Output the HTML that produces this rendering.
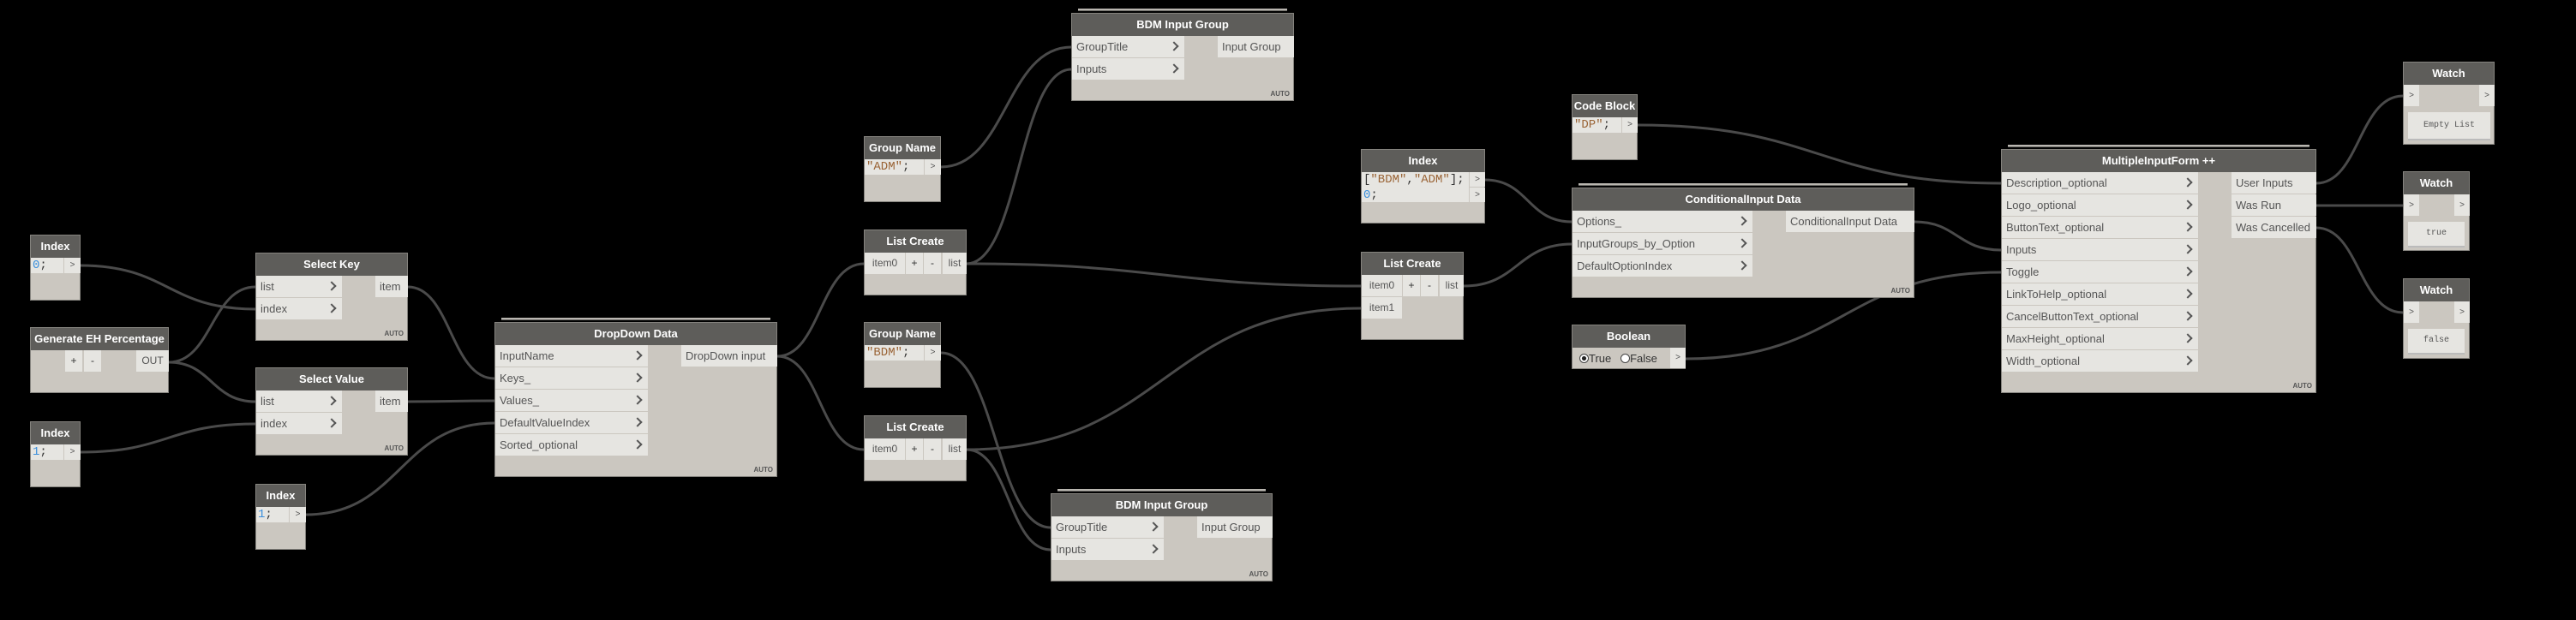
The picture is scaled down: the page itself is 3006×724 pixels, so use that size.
<!DOCTYPE html>
<html><head><meta charset="utf-8">
<style>
*{margin:0;padding:0}
body{width:3006px;height:724px;background:#000;position:relative;overflow:hidden;font-family:"Liberation Sans",sans-serif}
svg.w{position:absolute;left:0;top:0}
.n{position:absolute;background:#cbc7c0;border:1px solid #85837e;box-sizing:border-box}
.h{position:absolute;left:0;right:0;top:0;height:26px;background:#5e5d5a;color:#fff;font-weight:bold;font-size:13px;text-align:center;line-height:26px;white-space:nowrap}
.r{position:absolute;background:#e6e5e1;height:25px;line-height:25px;font-size:13px;color:#555;padding-left:5px;box-sizing:border-box;white-space:nowrap}
.r i{position:absolute;right:8px;top:8px;width:6px;height:6px;border-right:2.5px solid #555;border-bottom:2.5px solid #555;transform:rotate(-45deg)}
.c{position:absolute;background:#e6e5e1;height:18px;line-height:18px;font-family:"Liberation Mono",monospace;font-size:14px;color:#333;padding-left:2px;box-sizing:border-box;white-space:nowrap}
.p{position:absolute;background:#e6e5e1;height:18px;line-height:18px;font-size:10px;color:#555;text-align:center}
.b{position:absolute;background:#e6e5e1;height:25px;line-height:25px;font-size:12px;color:#333;text-align:center}
.num{color:#3b8fdc}.str{color:#9a6436}
.a{position:absolute;right:4px;bottom:3px;font-size:8px;font-weight:bold;color:#555}
.s{position:absolute;height:0;border-top:2px solid #b9b6b0;border-bottom:1px solid #6d6b67}
.wd{position:absolute;background:#e6e5e1;font-family:"Liberation Mono",monospace;font-size:10px;color:#555;text-align:center;border-bottom:2px solid #bbb;box-sizing:border-box}
</style></head><body>
<svg class="w" width="3006" height="724" fill="none" stroke="#4a4a4a" stroke-width="3">
<path d="M94 310 C196 310 196 361 298 361"/>
<path d="M197 423 C247 423 247 335 298 335"/>
<path d="M197 423 C247 423 247 469 298 469"/>
<path d="M94 528 C196 528 196 495 298 495"/>
<path d="M476 335 C526 335 526 442 577 442"/>
<path d="M476 469 C526 469 526 468 577 468"/>
<path d="M357 601 C467 601 467 494 577 494"/>
<path d="M907 416 C957 416 957 308 1008 308"/>
<path d="M907 416 C957 416 957 525 1008 525"/>
<path d="M1098 195 C1174 195 1174 55 1250 55"/>
<path d="M1128 308 C1189 308 1189 81 1250 81"/>
<path d="M1098 412 C1162 412 1162 616 1226 616"/>
<path d="M1128 525 C1177 525 1177 642 1226 642"/>
<path d="M1128 308 C1358 308 1358 334 1588 334"/>
<path d="M1128 525 C1358 525 1358 360 1588 360"/>
<path d="M1733 210 C1783 210 1783 259 1834 259"/>
<path d="M1708 334 C1771 334 1771 285 1834 285"/>
<path d="M1911 146 C2123 146 2123 214 2335 214"/>
<path d="M2234 259 C2284 259 2284 292 2335 292"/>
<path d="M1967 419 C2151 419 2151 318 2335 318"/>
<path d="M2703 214 C2753 214 2753 112 2804 112"/>
<path d="M2703 240 L2804 240"/>
<path d="M2703 266 C2753 266 2753 365 2804 365"/>
</svg>

<div class="n" style="left:35px;top:274px;width:59px;height:77px"><div class="h">Index</div>
<div class="c" style="left:0;top:26px;width:38px"><span class="num">0</span>;</div><div class="p" style="left:39px;top:26px;width:19px">&gt;</div></div>
<div class="n" style="left:35px;top:382px;width:162px;height:77px"><div class="h">Generate EH Percentage</div>
<div class="b" style="left:40px;top:26px;width:20px">+</div><div class="b" style="left:62px;top:26px;width:20px">-</div><div class="b" style="left:123px;top:26px;width:38px;color:#555">OUT</div></div>
<div class="n" style="left:35px;top:492px;width:59px;height:77px"><div class="h">Index</div>
<div class="c" style="left:0;top:26px;width:38px"><span class="num">1</span>;</div><div class="p" style="left:39px;top:26px;width:19px">&gt;</div></div>
<div class="n" style="left:298px;top:295px;width:178px;height:103px"><div class="h">Select Key</div>
<div class="r" style="left:0;top:26px;width:100px">list<i></i></div><div class="r" style="left:0;top:52px;width:100px">index<i></i></div>
<div class="r" style="left:139px;top:26px;width:38px">item</div><div class="a">AUTO</div></div>
<div class="n" style="left:298px;top:429px;width:178px;height:103px"><div class="h">Select Value</div>
<div class="r" style="left:0;top:26px;width:100px">list<i></i></div><div class="r" style="left:0;top:52px;width:100px">index<i></i></div>
<div class="r" style="left:139px;top:26px;width:38px">item</div><div class="a">AUTO</div></div>
<div class="n" style="left:298px;top:565px;width:59px;height:77px"><div class="h">Index</div>
<div class="c" style="left:0;top:26px;width:38px"><span class="num">1</span>;</div><div class="p" style="left:39px;top:26px;width:19px">&gt;</div></div>
<div class="s" style="left:585px;top:371px;width:314px"></div>
<div class="n" style="left:577px;top:376px;width:330px;height:181px"><div class="h">DropDown Data</div>
<div class="r" style="left:0;top:26px;width:178px">InputName<i></i></div>
<div class="r" style="left:0;top:52px;width:178px">Keys_<i></i></div>
<div class="r" style="left:0;top:78px;width:178px">Values_<i></i></div>
<div class="r" style="left:0;top:104px;width:178px">DefaultValueIndex<i></i></div>
<div class="r" style="left:0;top:130px;width:178px">Sorted_optional<i></i></div>
<div class="r" style="left:217px;top:26px;width:112px">DropDown input</div><div class="a">AUTO</div></div>
<div class="n" style="left:1008px;top:159px;width:90px;height:77px"><div class="h">Group Name</div>
<div class="c" style="left:0;top:26px;width:69px"><span class="str">"ADM"</span>;</div><div class="p" style="left:70px;top:26px;width:19px">&gt;</div></div>
<div class="n" style="left:1008px;top:268px;width:120px;height:77px"><div class="h">List Create</div>
<div class="b" style="left:0;top:26px;width:47px;color:#555">item0</div><div class="b" style="left:48px;top:26px;width:20px">+</div><div class="b" style="left:69px;top:26px;width:20px">-</div><div class="b" style="left:91px;top:26px;width:28px;color:#555">list</div></div>
<div class="n" style="left:1008px;top:376px;width:90px;height:77px"><div class="h">Group Name</div>
<div class="c" style="left:0;top:26px;width:69px"><span class="str">"BDM"</span>;</div><div class="p" style="left:70px;top:26px;width:19px">&gt;</div></div>
<div class="n" style="left:1008px;top:485px;width:120px;height:77px"><div class="h">List Create</div>
<div class="b" style="left:0;top:26px;width:47px;color:#555">item0</div><div class="b" style="left:48px;top:26px;width:20px">+</div><div class="b" style="left:69px;top:26px;width:20px">-</div><div class="b" style="left:91px;top:26px;width:28px;color:#555">list</div></div>
<div class="s" style="left:1258px;top:10px;width:244px"></div>
<div class="n" style="left:1250px;top:15px;width:260px;height:103px"><div class="h">BDM Input Group</div>
<div class="r" style="left:0;top:26px;width:131px">GroupTitle<i></i></div><div class="r" style="left:0;top:52px;width:131px">Inputs<i></i></div>
<div class="r" style="left:170px;top:26px;width:89px">Input Group</div><div class="a">AUTO</div></div>
<div class="s" style="left:1234px;top:571px;width:243px"></div>
<div class="n" style="left:1226px;top:576px;width:259px;height:103px"><div class="h">BDM Input Group</div>
<div class="r" style="left:0;top:26px;width:131px">GroupTitle<i></i></div><div class="r" style="left:0;top:52px;width:131px">Inputs<i></i></div>
<div class="r" style="left:170px;top:26px;width:88px">Input Group</div><div class="a">AUTO</div></div>
<div class="n" style="left:1588px;top:174px;width:145px;height:87px"><div class="h">Index</div>
<div class="c" style="left:0;top:26px;width:125px;height:35px;line-height:18px">[<span class="str">"BDM"</span>,<span class="str">"ADM"</span>];<br><span class="num">0</span>;</div>
<div class="p" style="left:126px;top:26px;width:18px;height:17px;line-height:17px">&gt;</div><div class="p" style="left:126px;top:44px;width:18px;height:17px;line-height:17px">&gt;</div></div>
<div class="n" style="left:1588px;top:294px;width:120px;height:103px"><div class="h">List Create</div>
<div class="b" style="left:0;top:26px;width:47px;color:#555">item0</div><div class="b" style="left:48px;top:26px;width:20px">+</div><div class="b" style="left:69px;top:26px;width:20px">-</div><div class="b" style="left:91px;top:26px;width:28px;color:#555">list</div>
<div class="b" style="left:0;top:52px;width:47px;color:#555">item1</div></div>
<div class="n" style="left:1834px;top:110px;width:77px;height:77px"><div class="h">Code Block</div>
<div class="c" style="left:0;top:26px;width:57px"><span class="str">"DP"</span>;</div><div class="p" style="left:58px;top:26px;width:18px">&gt;</div></div>
<div class="s" style="left:1842px;top:214px;width:384px"></div>
<div class="n" style="left:1834px;top:219px;width:400px;height:129px"><div class="h">ConditionalInput Data</div>
<div class="r" style="left:0;top:26px;width:210px">Options_<i></i></div>
<div class="r" style="left:0;top:52px;width:210px">InputGroups_by_Option<i></i></div>
<div class="r" style="left:0;top:78px;width:210px">DefaultOptionIndex<i></i></div>
<div class="r" style="left:249px;top:26px;width:150px">ConditionalInput Data</div><div class="a">AUTO</div></div>
<div class="n" style="left:1834px;top:379px;width:133px;height:52px"><div class="h">Boolean</div>
<div style="position:absolute;left:8px;top:31px;font-size:13px;color:#333;white-space:nowrap"><span style="display:inline-block;width:9px;height:9px;border:1px solid #444;border-radius:50%;background:radial-gradient(#222 35%,#fff 45%);vertical-align:-1px"></span>True&nbsp;&nbsp; <span style="display:inline-block;width:9px;height:9px;border:1px solid #444;border-radius:50%;background:#fff;vertical-align:-1px"></span>False</div>
<div class="p" style="left:114px;top:26px;width:18px;height:24px;line-height:24px">&gt;</div></div>
<div class="s" style="left:2343px;top:169px;width:352px"></div>
<div class="n" style="left:2335px;top:174px;width:368px;height:285px"><div class="h">MultipleInputForm ++</div>
<div class="r" style="left:0;top:26px;width:229px">Description_optional<i></i></div>
<div class="r" style="left:0;top:52px;width:229px">Logo_optional<i></i></div>
<div class="r" style="left:0;top:78px;width:229px">ButtonText_optional<i></i></div>
<div class="r" style="left:0;top:104px;width:229px">Inputs<i></i></div>
<div class="r" style="left:0;top:130px;width:229px">Toggle<i></i></div>
<div class="r" style="left:0;top:156px;width:229px">LinkToHelp_optional<i></i></div>
<div class="r" style="left:0;top:182px;width:229px">CancelButtonText_optional<i></i></div>
<div class="r" style="left:0;top:208px;width:229px">MaxHeight_optional<i></i></div>
<div class="r" style="left:0;top:234px;width:229px">Width_optional<i></i></div>
<div class="r" style="left:268px;top:26px;width:99px">User Inputs</div>
<div class="r" style="left:268px;top:52px;width:99px">Was Run</div>
<div class="r" style="left:268px;top:78px;width:99px">Was Cancelled</div>
<div class="a">AUTO</div></div>
<div class="n" style="left:2804px;top:72px;width:107px;height:97px"><div class="h">Watch</div>
<div class="p" style="left:0;top:26px;width:18px;height:25px;line-height:25px">&gt;</div><div class="p" style="left:88px;top:26px;width:18px;height:25px;line-height:25px">&gt;</div>
<div class="wd" style="left:5px;top:58px;width:96px;height:33px;line-height:31px">Empty List</div></div>
<div class="n" style="left:2804px;top:200px;width:78px;height:93px"><div class="h">Watch</div>
<div class="p" style="left:0;top:26px;width:18px;height:25px;line-height:25px">&gt;</div><div class="p" style="left:59px;top:26px;width:18px;height:25px;line-height:25px">&gt;</div>
<div class="wd" style="left:5px;top:58px;width:66px;height:30px;line-height:28px">true</div></div>
<div class="n" style="left:2804px;top:325px;width:78px;height:94px"><div class="h">Watch</div>
<div class="p" style="left:0;top:26px;width:18px;height:25px;line-height:25px">&gt;</div><div class="p" style="left:59px;top:26px;width:18px;height:25px;line-height:25px">&gt;</div>
<div class="wd" style="left:5px;top:58px;width:66px;height:30px;line-height:28px">false</div></div>
</body></html>
